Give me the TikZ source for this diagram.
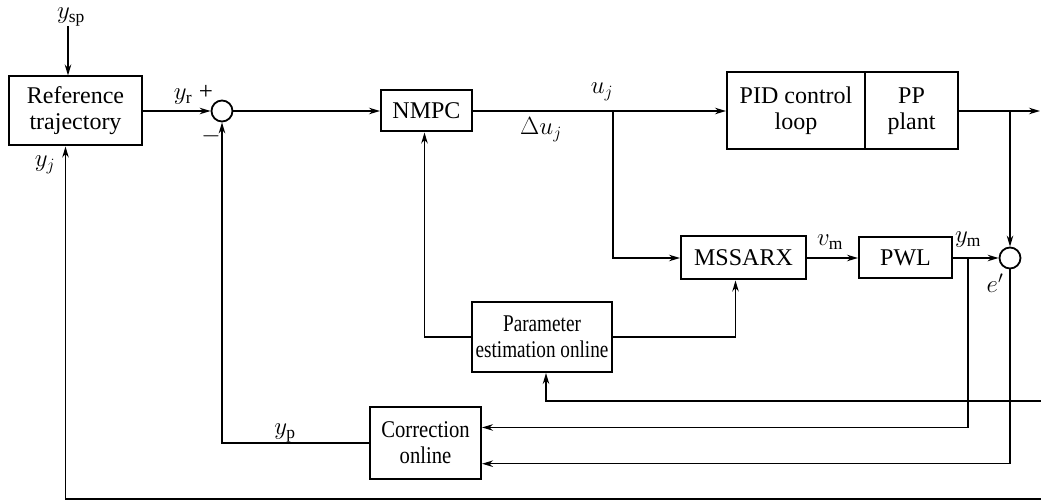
\documentclass[tikz,border=0pt]{standalone}
\usepackage{fontspec}
\setmainfont{Liberation Serif}
\usetikzlibrary{arrows.meta,calc}
\newcommand\narrow[2][0.86]{\scalebox{#1}[1]{#2}}
\begin{document}
\begin{tikzpicture}[x=1pt,y=-1pt,
  blk/.style={draw,line width=2pt,font=\fontsize{24}{26}\selectfont,align=center,inner sep=0pt},
  sumc/.style={draw,circle,line width=1.8pt,minimum size=21pt,inner sep=0pt},
  con/.style={line width=1.4pt,-{Stealth[length=11pt,width=6.5pt]}},
  lab/.style={font=\fontsize{25}{27}\selectfont,inner sep=0pt}]
\useasboundingbox (0,0) rectangle (1041,502);

% blocks
\node[blk,minimum width=133pt,minimum height=69pt] (ref) at (75.5,111) {Reference\\trajectory};
\node[sumc] (sum1) at (222,111) {};
\node[blk,minimum width=91pt,minimum height=41pt] (nmpc) at (426.5,111) {NMPC};
\node[blk,minimum width=138pt,minimum height=77pt] (pid) at (796,111) {PID control\\loop};
\node[blk,minimum width=93pt,minimum height=77pt] (pp) at (911.5,111) {PP\\plant};
\node[blk,minimum width=125pt,minimum height=43pt] (mss) at (743.5,258) {MSSARX};
\node[blk,minimum width=93pt,minimum height=41pt] (pwl) at (905.5,258) {PWL};
\node[sumc] (sum2) at (1010,258) {};
\node[blk,minimum width=140pt,minimum height=70pt] (param) at (542,337) {\narrow[0.8]{Parameter}\\\narrow[0.8]{estimation online}};
\node[blk,minimum width=111pt,minimum height=72pt] (corr) at (425.5,443) {\narrow{Correction}\\\narrow{online}};

% signal labels
\node[lab] (ysp) at (71,17) {$y_{\mathrm{sp}}$};
\node[lab] at (183,97) {$y_{\mathrm{r}}$};
\node[lab] at (206,92) {+};
\node[lab] at (211,136) {$-$};
\node[lab] at (541,130) {$\Delta u_j$};
\node[lab] at (602,92) {$u_j$};
\node[lab] at (830,242) {$v_{\mathrm{m}}$};
\node[lab] at (968,240) {$y_{\mathrm{m}}$};
\node[lab] at (995,283) {$e'$};
\node[lab] at (285,433) {$y_{\mathrm{p}}$};
\node[lab] at (45,165) {$y_j$};

% branch points and free ends
\coordinate (b1) at (613,111);
\coordinate (b2) at (1010,111);
\coordinate (b3) at (968,258);
\coordinate (out) at (1040,111);
\coordinate (r1) at (1041,401);
\coordinate (r2) at (1041,499);
\coordinate (c1) at ($(corr.north east)!0.29!(corr.south east)$);
\coordinate (c2) at ($(corr.north east)!0.78!(corr.south east)$);

% connectors
\draw[con] (ysp.south -| 68,0) -- (ref.north -| 68,0);
\draw[con] (ref.east) -- (sum1.west);
\draw[con] (sum1.east) -- (nmpc.west);
\draw[con] (nmpc.east) -- (pid.west);
\draw[con] (b1) |- (mss.west);
\draw[con] (pp.east) -- (out);
\draw[con] (b2) -- (sum2.north);
\draw[con] (mss.east) -- (pwl.west);
\draw[con] (pwl.east) -- (sum2.west);
\draw[con] (b3) |- (c1);
\draw[con] (sum2.south) |- (c2);
\draw[con] (param.west) -| ([xshift=-2pt]nmpc.south);
\draw[con] (param.east) -| ([xshift=-8pt]mss.south);
\draw[con] (r1) -| ([xshift=4pt]param.south);
\draw[con] (corr.west) -| (sum1.south);
\draw[con] (r2) -| ([xshift=-10pt]ref.south);
\end{tikzpicture}
\end{document}
